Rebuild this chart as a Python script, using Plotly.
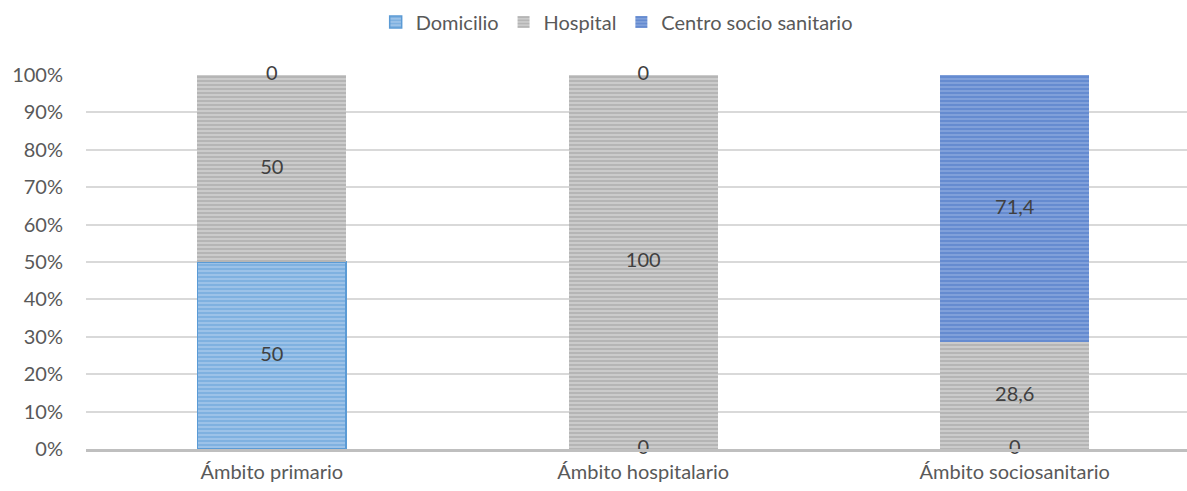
import plotly.graph_objects as go

categories = ["Ámbito primario", "Ámbito hospitalario", "Ámbito sociosanitario"]
series_names = ["Domicilio", "Hospital", "Centro socio sanitario"]
domicilio = [50, 0, 0]
hospital = [50, 100, 28.6]
centro = [0, 0, 71.4]
y_ticks = [0, 10, 20, 30, 40, 50, 60, 70, 80, 90, 100]

series_values = [domicilio, hospital, centro]
fg_colors = ["#5B9BD5", "#9A9A9A", "#4472C4"]
bg_colors = ["#A3C6EA", "#D0D0D0", "#87A5DC"]
line_colors = ["#5B9BD5", "rgba(0,0,0,0)", "rgba(0,0,0,0)"]

FONT = "Lato"
FS = 20
fig = go.Figure()

for name, vals, fg, bg, lc in zip(series_names, series_values, fg_colors, bg_colors, line_colors):
    fig.add_trace(go.Bar(
        name=name, x=categories, y=vals, width=0.4,
        marker=dict(color=bg, line=dict(color=lc, width=1.5),
                    pattern=dict(shape="-", fgcolor=fg, bgcolor=bg, size=4, solidity=0.6)),
        hoverinfo="skip",
    ))

# data labels centred in each stacked segment (zero segments sit on their base)
lx, ly, lt = [], [], []
for i, cat in enumerate(categories):
    base = 0
    total = sum(v[i] for v in series_values)
    for vals in series_values:
        v = vals[i] / total * 100
        lx.append(cat)
        ly.append(base + v / 2)
        lt.append(f"{vals[i]:g}".replace(".", ","))
        base += v
fig.add_trace(go.Scatter(x=lx, y=ly, text=lt, mode="text", showlegend=False,
                         cliponaxis=False,
                         textfont=dict(family=FONT, size=FS, color="#404040"),
                         hoverinfo="skip"))

fig.update_layout(
    barmode="stack", barnorm="percent",
    width=1187, height=491,
    margin=dict(l=86, r=0, t=75, b=42),
    paper_bgcolor="white", plot_bgcolor="white",
    font=dict(family=FONT, size=FS, color="#595959"),
    legend=dict(orientation="h", x=0.482, xanchor="center", y=0.995, yref="container",
                yanchor="top", font=dict(size=FS, color="#595959"),
                itemwidth=30, traceorder="normal", tracegroupgap=0),
    bargap=0.6,
)
fig.update_xaxes(range=[-0.5, -0.5 + 1101 / 371.5], showgrid=False,
                 showline=True, linecolor="#BFBFBF", linewidth=3,
                 ticks="", ticklabelstandoff=3,
                 tickfont=dict(family=FONT, size=FS, color="#595959"))
fig.update_yaxes(range=[0, 100], tickvals=y_ticks,
                 ticktext=[f"{t}%" for t in y_ticks],
                 showgrid=True, gridcolor="#D9D9D9", gridwidth=1.5,
                 zeroline=False, showline=False, ticks="", ticklabelstandoff=22,
                 tickfont=dict(family=FONT, size=FS, color="#595959"))

fig.write_html("out.html")
